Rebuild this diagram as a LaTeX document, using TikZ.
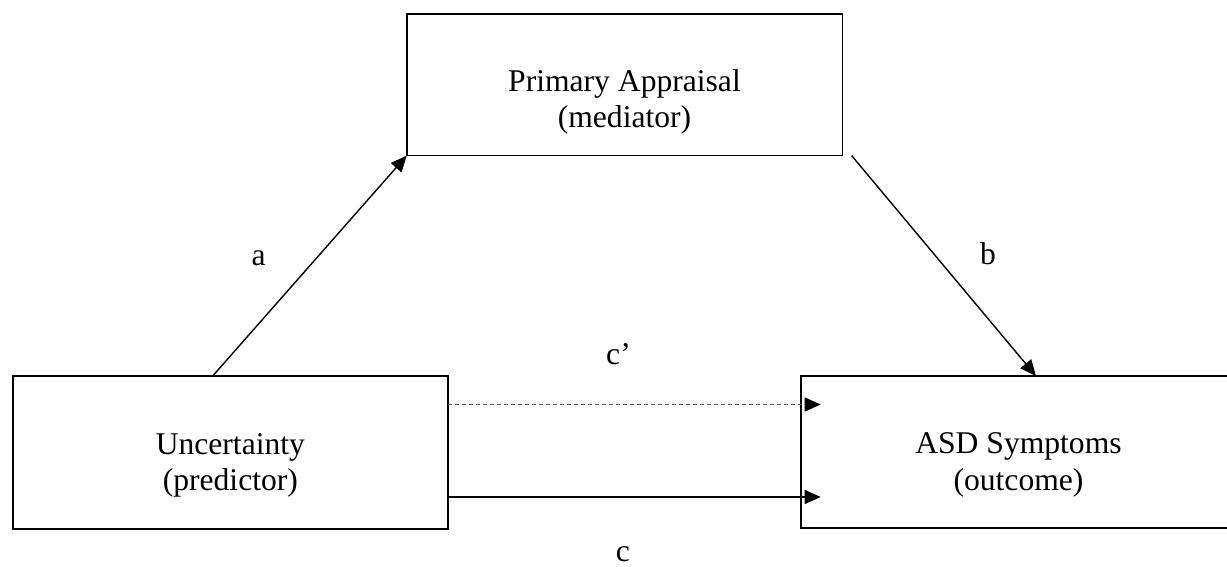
\documentclass[tikz,border=0pt]{standalone}
\usepackage{fontspec}
\setmainfont{Liberation Serif}
\usetikzlibrary{arrows.meta}
\begin{document}
\begin{tikzpicture}[x=1pt,y=1pt,
  box/.style={draw, line width=1.6pt, inner sep=0pt, outer sep=0pt},
  txt/.style={font=\fontsize{31.6}{36.3}\selectfont, align=center, inner sep=0pt},
  lab/.style={font=\fontsize{31.6}{36.3}\selectfont, inner sep=0pt, anchor=base},
  arr/.style={line width=1.4pt, -{Triangle[length=16pt,width=14pt]}},
  darr/.style={line width=1.3pt, gray!70!black, dash pattern=on 4pt off 3pt,
    -{Triangle[length=16pt,width=14pt,color=black]}}
]
\useasboundingbox (0,0) rectangle (1227,567);
\clip (0,0) rectangle (1227,567);
% boxes
\node[box, minimum width=435.6pt, minimum height=141.7pt] (T) at (624.5,482.15) {};
\node[box, minimum width=435.3pt, minimum height=153pt] (L) at (230.35,114.5) {};
\node[box, minimum width=435pt, minimum height=152pt] (R) at (1018.5,115) {};
% texts
\node[txt] (Tt) at ([yshift=-17]T.center) {Primary Appraisal\\(mediator)};
\node[txt] (Lt) at ([yshift=-13]L.center) {Uncertainty\\(predictor)};
\node[txt] (Rt) at ([yshift=-13]R.center) {ASD Symptoms\\(outcome)};
% connectors
\draw[arr] ([xshift=200]L.north west) -- (T.south west);
\draw[arr] ([xshift=9.4]T.south east) -- ([xshift=235]R.north west);
\draw[darr] ([yshift=-28.5]L.north east) -- ([xshift=19.7,yshift=-28.5]R.north west);
\draw[arr] ([yshift=32]L.south east) -- ([xshift=19.7,yshift=31]R.south west);
% labels
\node[lab] (la) at (258.7,301) {a};
\node[lab] (lb) at (988,302) {b};
\node[lab] (lcp) at (618.5,202) {c’};
\node[lab] (lc) at (623,5) {c};
\end{tikzpicture}
\end{document}
